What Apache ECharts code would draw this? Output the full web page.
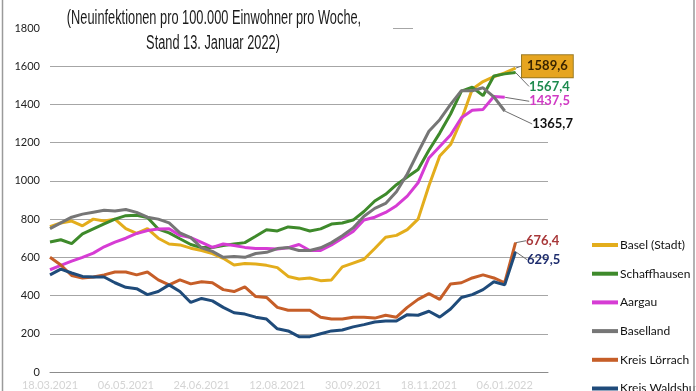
<!DOCTYPE html>
<html><head><meta charset="utf-8">
<script src="https://cdn.jsdelivr.net/npm/echarts@6/dist/echarts.min.js"></script>
<style>html,body{margin:0;padding:0;background:#fff}#c{width:696px;height:391px}</style>
</head><body><div id="c"></div>
<script>
const weeks = ['18.03.2021','25.03.2021','01.04.2021','08.04.2021','15.04.2021','22.04.2021','29.04.2021','06.05.2021','13.05.2021','20.05.2021','27.05.2021','03.06.2021','10.06.2021','17.06.2021','24.06.2021','01.07.2021','08.07.2021','15.07.2021','22.07.2021','29.07.2021','05.08.2021','12.08.2021','19.08.2021','26.08.2021','02.09.2021','09.09.2021','16.09.2021','23.09.2021','30.09.2021','07.10.2021','14.10.2021','21.10.2021','28.10.2021','04.11.2021','11.11.2021','18.11.2021','25.11.2021','02.12.2021','09.12.2021','16.12.2021','23.12.2021','30.12.2021','06.01.2022','13.01.2022','','',''];
const seriesNames = ['Basel (Stadt)','Schaffhausen','Aargau','Baselland','Kreis Lörrach','Kreis Waldshut'];
const baselStadt = [760,780,790,765,800,790,800,750,725,750,700,670,665,648,636,620,595,560,568,565,558,546,500,487,492,478,482,550,570,590,646,705,715,745,800,975,1130,1190,1320,1480,1520,1545,1565,1589.6];
const schaffhausen = [680,692,672,723,749,775,800,818,820,808,748,728,697,667,651,651,662,670,677,710,744,738,759,754,738,749,774,780,795,840,895,930,980,1020,1060,1160,1250,1350,1470,1490,1446,1549,1560,1567.4];
const aargau = [535,558,580,600,622,655,680,700,725,740,748,750,715,703,678,652,670,662,652,646,646,643,650,667,636,636,665,700,735,795,810,835,870,920,990,1120,1180,1240,1330,1370,1374,1442,1437.5];
const baselland = [750,780,810,826,836,846,842,850,835,810,800,780,728,703,650,631,600,604,600,620,626,646,651,636,636,650,677,713,754,815,856,882,943,1036,1150,1260,1320,1400,1472,1472,1487,1440,1365.7];
const loerrach = [600,560,505,492,497,508,523,523,508,523,482,456,482,461,472,467,431,421,446,395,390,338,323,323,323,287,277,277,287,287,282,297,287,338,380,410,380,461,467,492,508,492,467,676.4];
const waldshut = [508,538,518,500,497,497,467,443,436,405,421,456,421,364,385,372,338,310,303,287,277,226,215,185,185,200,215,220,236,248,262,267,267,300,297,318,287,330,390,405,431,472,456,629.5];
const yTicks = {min:0, max:1800, step:200};
const titleLines = ['(Neuinfektionen pro 100.000 Einwohner pro Woche,','Stand 13. Januar 2022)'];

const FONT = "Lato,'Liberation Sans',Arial,sans-serif";
const TFONT = "'Liberation Sans',Arial,sans-serif";
const colors = ['#E3AD1C','#3E8A2B','#D63CD4','#767676','#C65E28','#1F4B7A'];
const labelCfgs = [
  {color:'#3a2400', backgroundColor:'#E6A520', borderColor:'#9a7a20', borderWidth:1, padding:[5,5,4,5], dx:1, dy:-2},
  {color:'#1E8A4E', dx:8, dy:14},
  {color:'#D03AC4', dx:19, dy:4},
  {color:'#111', dx:22, dy:13},
  {color:'#A8383A', dx:5, dy:-2},
  {color:'#1E2D6E', dx:6, dy:8}
];
const allData = [baselStadt, schaffhausen, aargau, baselland, loerrach, waldshut];

function mk(i){
  const data = allData[i], last = data.length-1, c = colors[i], lc = labelCfgs[i];
  return {
    name: seriesNames[i], type:'line', z: 2+i,
    data: data.map((v,k)=> k===last ? {value:v, label:{show:true}} : v),
    lineStyle:{width:3, color:c}, itemStyle:{color:c},
    showSymbol:true, showAllSymbol:true, symbol:'circle',
    symbolSize:(v,p)=> p.dataIndex===last ? 1 : 0,
    label:{show:false, position:'right', distance:5, fontFamily:FONT, fontSize:13, fontWeight:'bold',
      color:lc.color, backgroundColor:lc.backgroundColor||'transparent', borderColor:lc.borderColor, borderWidth:lc.borderWidth||0,
      padding:lc.padding||0, formatter:p=>String(p.value).replace('.',',')},
    labelLayout:{dx:lc.dx, dy:lc.dy},
    labelLine:{show:true, lineStyle:{color:'#6e6e6e', width:1}},
    emphasis:{disabled:true}, animation:false
  };
}

const chart = echarts.init(document.getElementById('c'), null, {renderer:'canvas'});
chart.setOption({
  animation:false, backgroundColor:'#fff',
  grid:{left:50, right:148, top:28, bottom:12},
  xAxis:{type:'category', data:weeks, boundaryGap:false,
    axisLine:{lineStyle:{color:'#8c8c8c'}}, axisTick:{show:false},
    axisLabel:{interval:6, showMinLabel:true, color:'#d4d4d4', fontSize:11, margin:8, fontFamily:FONT},
    splitLine:{show:false}},
  yAxis:{type:'value', min:yTicks.min, max:yTicks.max, interval:yTicks.step,
    axisLine:{show:false}, axisTick:{show:false},
    axisLabel:{color:'#222', fontSize:11, margin:10, fontFamily:FONT, formatter:v=>String(v)},
    splitLine:{lineStyle:{color:'#a6a6a6', width:1}}},
  legend:{data:seriesNames, orient:'vertical', left:592, top:238, height:200, padding:0, icon:'rect', itemWidth:26, itemHeight:4, itemGap:14.7,
    textStyle:{fontSize:12, lineHeight:14, color:'#111', fontFamily:FONT, padding:[0,0,0,-3]}},
  graphic:[
    {type:'rect', z:50, shape:{x:45,y:0,width:348,height:54}, style:{fill:'#fff'}},
    {type:'rect', z:50, shape:{x:413,y:24,width:140,height:10}, style:{fill:'#fff'}},
    {type:'text', z:60, x:214, y:18, scaleX:0.64, style:{text:titleLines[0], x:0, y:0, textAlign:'center', textVerticalAlign:'middle', font:'20px '+TFONT, fill:'#1a1a1a'}},
    {type:'text', z:60, x:213, y:43, scaleX:0.64, style:{text:titleLines[1], x:0, y:0, textAlign:'center', textVerticalAlign:'middle', font:'20px '+TFONT, fill:'#1a1a1a'}},
    {type:'line', z:60, shape:{x1:2.5,y1:0,x2:2.5,y2:391}, style:{stroke:'#9a9a9a', lineWidth:1.5}},
    {type:'line', z:60, shape:{x1:694,y1:0,x2:694,y2:391}, style:{stroke:'#9a9a9a', lineWidth:1.5}}
  ],
  series:[0,1,2,3,4,5].map(mk)
});
</script></body></html>
